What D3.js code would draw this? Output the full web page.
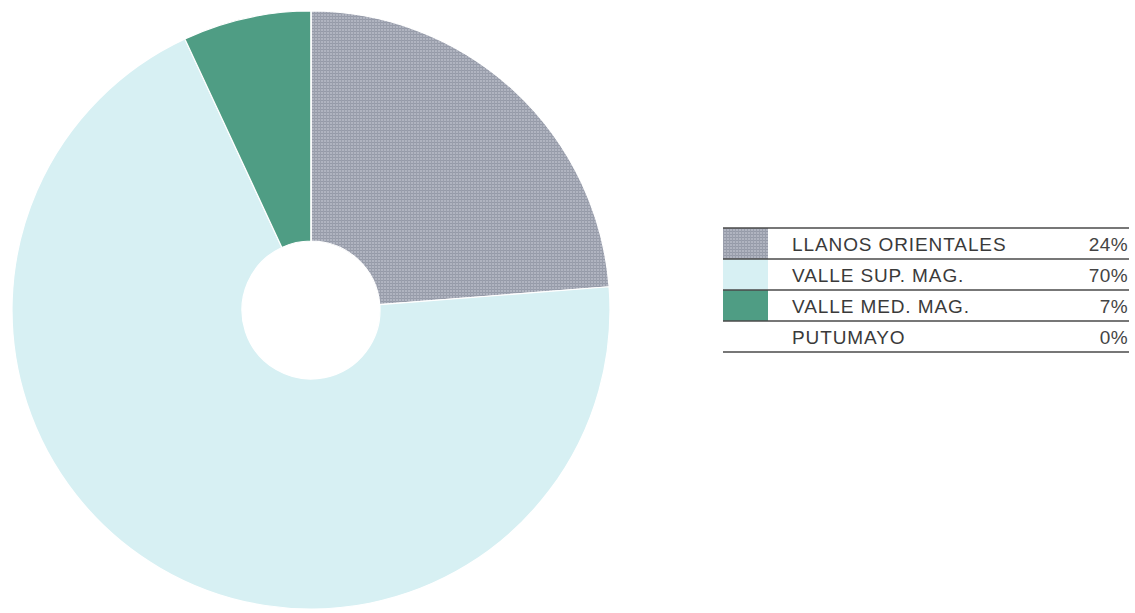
<!DOCTYPE html>
<html><head><meta charset="utf-8">
<script src="https://cdn.jsdelivr.net/npm/d3@7"></script>
<style>html,body{margin:0;padding:0;background:#fff;}svg{display:block;}</style>
</head><body>
<svg id="chart" width="1135" height="613"></svg>
<script>
const categories = ["LLANOS ORIENTALES", "VALLE SUP. MAG.", "VALLE MED. MAG.", "PUTUMAYO"];
const values = [24, 70, 7, 0];
const valueLabels = ["24%", "70%", "7%", "0%"];
const colors = ["url(#hatch)", "#d7f0f3", "#4f9d84", "#ffffff"];

const svg = d3.select("#chart");
const defs = svg.append("defs");
const pat = defs.append("pattern").attr("id","hatch").attr("patternUnits","userSpaceOnUse")
  .attr("width",3).attr("height",3);
pat.append("rect").attr("width",3).attr("height",3).attr("fill","#b0b4c0");
pat.append("rect").attr("width",3).attr("height",1).attr("fill","#959aa8");
pat.append("rect").attr("width",1).attr("height",3).attr("fill","#9a9fac");

const cx = 311, cy = 310, rOuter = 299, rInner = 69;
const pie = d3.pie().sort(null).value(d => d)(values);
const arc = d3.arc().innerRadius(rInner).outerRadius(rOuter);
const g = svg.append("g").attr("transform", `translate(${cx},${cy})`);
g.selectAll("path").data(pie).join("path")
  .attr("d", arc)
  .attr("fill", (d,i) => colors[i])
  .attr("stroke", "#ffffff").attr("stroke-width", 1.2);

// legend
const lx0 = 723, lx1 = 1129, swW = 45, ly0 = 228;
const y = d3.scaleBand().domain(d3.range(categories.length)).range([ly0, ly0 + 31*categories.length]).padding(0);
const lg = svg.append("g");
lg.selectAll("rect.sw").data(categories).join("rect").attr("class","sw")
  .attr("x", lx0).attr("y", (d,i) => y(i)).attr("width", swW).attr("height", y.bandwidth())
  .attr("fill", (d,i) => colors[i]);
lg.selectAll("line.sep").data(d3.range(categories.length + 1)).join("line").attr("class","sep")
  .attr("x1", lx0).attr("x2", lx1)
  .attr("y1", i => i < categories.length ? y(i) : y(categories.length-1) + y.bandwidth())
  .attr("y2", i => i < categories.length ? y(i) : y(categories.length-1) + y.bandwidth())
  .attr("stroke", "#4a4a4a").attr("stroke-width", 1.4);
lg.selectAll("text.cat").data(categories).join("text").attr("class","cat")
  .attr("x", 792).attr("y", (d,i) => y(i) + y.bandwidth()/2 + 7)
  .attr("font-family", "Liberation Sans, Arial, sans-serif").attr("font-size", 19)
  .attr("letter-spacing", 0.9)
  .attr("fill", "#3a3a3a").text(d => d);
lg.selectAll("text.val").data(valueLabels).join("text").attr("class","val")
  .attr("x", lx1 - 1).attr("y", (d,i) => y(i) + y.bandwidth()/2 + 7)
  .attr("text-anchor", "end")
  .attr("font-family", "Liberation Sans, Arial, sans-serif").attr("font-size", 19)
  .attr("letter-spacing", 0.4)
  .attr("fill", "#444").text(d => d);
</script>
</body></html>
